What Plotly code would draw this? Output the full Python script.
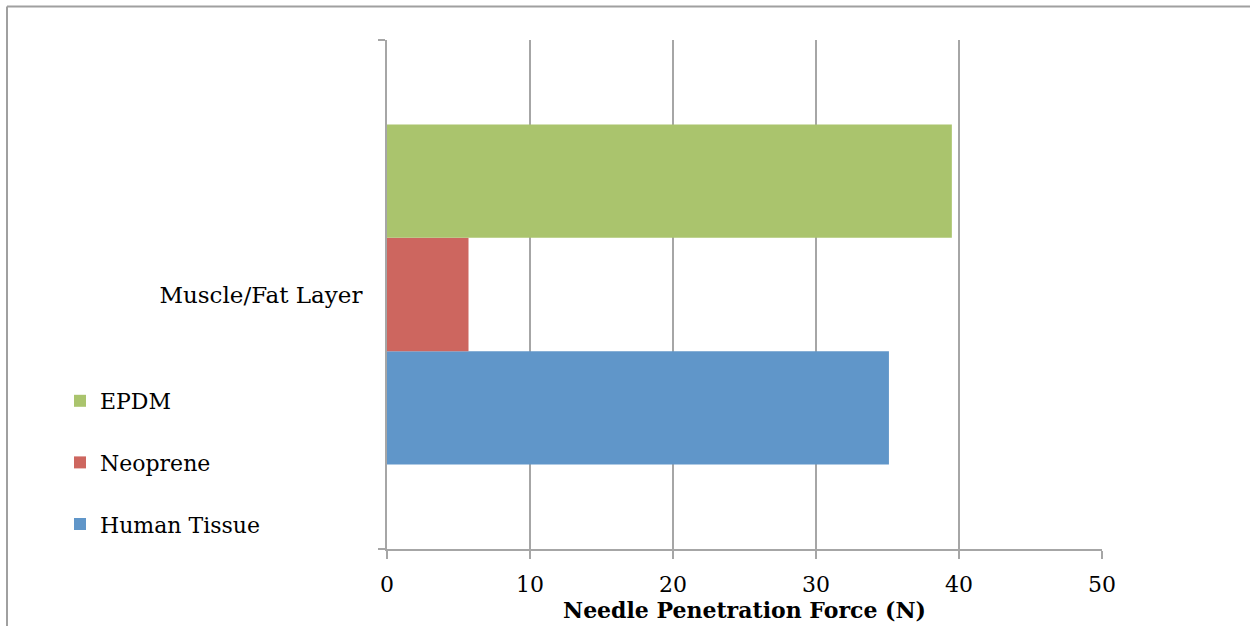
import plotly.graph_objects as go

categories = ["Muscle/Fat Layer"]
series_names = ["Human Tissue", "Neoprene", "EPDM"]
human_tissue = [35.1]
neoprene = [5.7]
epdm = [39.5]
x_ticks = [0, 10, 20, 30, 40, 50]

colors = {"Human Tissue": "#6096C9", "Neoprene": "#CD665F", "EPDM": "#AAC46D"}
values = {"Human Tissue": human_tissue, "Neoprene": neoprene, "EPDM": epdm}
legend_rank = {"EPDM": 1, "Neoprene": 2, "Human Tissue": 3}

FONT = "DejaVu Serif"
GRID = "#A6A6A6"

fig = go.Figure()
for name in series_names:
    fig.add_trace(go.Bar(
        y=categories, x=values[name], name=name, orientation="h",
        marker=dict(color=colors[name], line=dict(width=0)),
        legendgroup=name, legendrank=legend_rank[name],
    ))

L, R, T, B = 387, 148, 40, 77
W, H = 1250, 626
pw, ph = W - L - R, H - T - B

fx0 = (7 - L) / pw
fy1 = 1 + (T - 6.5) / ph

fig.update_layout(
    width=W, height=H,
    margin=dict(l=L, r=R, t=T, b=B, autoexpand=False),
    paper_bgcolor="white", plot_bgcolor="white",
    barmode="group", bargap=0.332, bargroupgap=0,
    font=dict(family=FONT, size=22, color="#000000"),
    showlegend=True,
    legend=dict(
        traceorder="grouped", tracegroupgap=30,
        x=(60 - L) / pw, xanchor="left",
        y=1 - (380 - T) / ph, yanchor="top",
        font=dict(family=FONT, size=22, color="#000000"),
        bgcolor="rgba(0,0,0,0)", borderwidth=0,
    ),
    xaxis=dict(
        range=[0, 50], tickvals=x_ticks, ticktext=[str(v) for v in x_ticks],
        showgrid=True, gridcolor=GRID, gridwidth=2,
        showline=True, linecolor=GRID, linewidth=2,
        zeroline=False,
        ticks="outside", ticklen=8, tickcolor=GRID, tickwidth=2,
        ticklabelstandoff=7,
        tickfont=dict(family=FONT, size=22, color="#000000"),
        title=dict(text="<b>Needle Penetration Force (N)</b>",
                   font=dict(family=FONT, size=22, color="#000000"),
                   standoff=0),
        fixedrange=True,
    ),
    yaxis=dict(
        type="category", range=[-0.5, 0.5],
        showgrid=False, showline=True, linecolor=GRID, linewidth=2,
        ticks="outside", tickson="boundaries", ticklen=7, tickcolor=GRID, tickwidth=2,
        ticklabelstandoff=18,
        tickfont=dict(family=FONT, size=23, color="#000000"),
        fixedrange=True,
    ),
    shapes=[
        dict(type="line", xref="paper", yref="paper", layer="below",
             x0=fx0, x1=3, y0=fy1, y1=fy1,
             line=dict(color="#A0A0A0", width=2)),
        dict(type="line", xref="paper", yref="paper", layer="below",
             x0=fx0, x1=fx0, y0=-1, y1=fy1,
             line=dict(color="#A0A0A0", width=2)),
    ],
)

fig.write_html("out.html")
